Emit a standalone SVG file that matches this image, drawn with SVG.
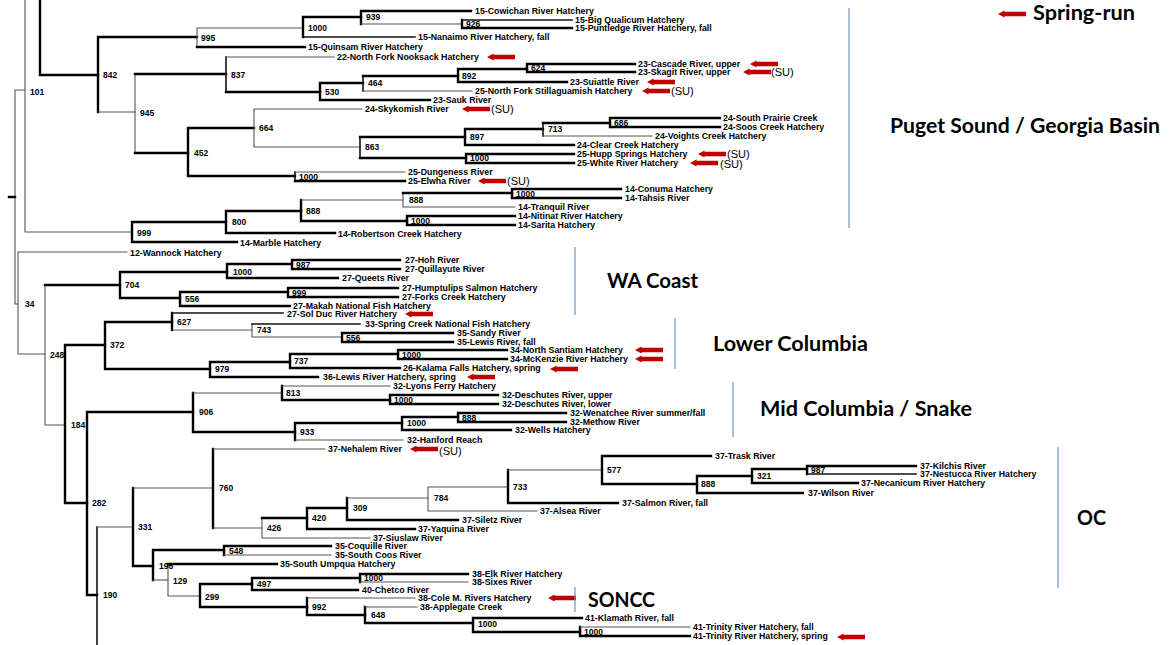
<svg xmlns="http://www.w3.org/2000/svg" xmlns:xlink="http://www.w3.org/1999/xlink" width="1173" height="645" viewBox="0 0 1173 645">
<style>
.k{stroke:#000;stroke-width:2.4;fill:none;stroke-linecap:square}
.m{stroke:#111;stroke-width:1.6;fill:none;stroke-linecap:square}
.g{stroke:#555;stroke-width:1.1;fill:none;stroke-linecap:square}
.lf{font-family:"Liberation Sans",Arial,sans-serif;font-weight:bold;font-size:8.8px;fill:#000}
.bs{font-family:"Liberation Sans",Arial,sans-serif;font-weight:bold;font-size:8.5px;fill:#000}
.su{font-family:"Liberation Sans",Arial,sans-serif;font-size:11px;fill:#000}
.rg{font-family:Lato,"Open Sans",sans-serif;font-size:20.5px;font-weight:bold;fill:#000}
.bl{stroke:#7090c8;stroke-width:1.2}
.ar{fill:#c00000}
</style>
<defs>
<path id="ar" class="ar" d="M0,0 L6.5,-3.6 V-2.3 H28 V2.3 H6.5 V3.6 Z"/>
</defs>
<rect width="1173" height="645" fill="#fff"/>

<g id="connectors">
<path class="k" d="M40,0V75M40,75H98"/>
<path class="g" d="M25,0V232M15,90H25M25,232H132M15,90V304M15,304H18"/>
<path class="k" d="M9,197H15"/>
<path class="k" d="M98,37V112M98,37H197"/><path class="g" d="M98,112H135"/>
<path class="g" d="M197,28V47M197,28H303"/><path class="k" d="M197,47H305"/>
<path class="k" d="M303,17V37M303,17H361"/><path class="m" d="M303,37H415"/>
<path class="k" d="M361,11V24M361,11H471"/><path class="g" d="M361,24H462"/>
<path class="k" d="M462,20V28M462,28H572"/><path class="m" d="M462,20H572"/>
<path class="g" d="M135,74V153"/><path class="k" d="M135,74H226M135,153H188"/>
<path class="m" d="M226,57V92"/><path class="g" d="M226,57H334"/><path class="k" d="M226,92H320"/>
<path class="k" d="M320,83V100M320,83H363M320,100H430"/>
<path class="m" d="M363,76V91"/><path class="k" d="M363,76H458"/><path class="g" d="M363,91H472"/>
<path class="k" d="M458,69V82M458,69H527M458,82H567"/>
<path class="k" d="M527,64V72M527,64H635M527,72H635"/>
<path class="k" d="M188,128V176M188,128H254M188,176H295"/>
<path class="g" d="M254,109V147M254,109H362M254,147H360"/>
<path class="m" d="M360,137V158"/><path class="k" d="M360,137H465M360,158H466"/>
<path class="k" d="M465,129V145M465,129H543M465,145H574"/>
<path class="m" d="M543,123V136"/><path class="k" d="M543,123H610"/><path class="g" d="M543,136H652"/>
<path class="k" d="M610,118V127M610,118H720M610,127H720"/>
<path class="k" d="M466,154V163M466,154H574M466,163H574"/>
<path class="m" d="M295,172V181"/><path class="g" d="M295,172H405"/><path class="k" d="M295,181H405"/>
<path class="k" d="M132,222V242M132,222H226M132,242H237"/>
<path class="k" d="M226,211V233M226,211H301M226,233H335"/>
<path class="k" d="M301,200V221M301,221H407"/><path class="g" d="M301,200H403"/>
<path class="g" d="M403,193V207M403,207H515"/><path class="k" d="M403,193H512"/>
<path class="k" d="M512,189V198M512,189H621M512,198H621"/>
<path class="k" d="M407,216V225M407,216H515M407,225H515"/>
<path class="g" d="M18,252V354M18,252H127M18,354H45"/>
<path class="g" d="M45,285V425M45,425H65"/><path class="k" d="M45,285H120"/>
<path class="k" d="M120,272V298M120,272H227M120,298H180"/>
<path class="k" d="M227,264V278M227,264H292M227,278H338"/>
<path class="k" d="M292,260V269M292,260H400M292,269H400"/>
<path class="k" d="M180,292V306M180,292H288M180,306H290"/>
<path class="k" d="M288,288V297M288,288H398M288,297H398"/>
<path class="k" d="M65,345V503M65,345H105M65,503H87"/>
<path class="k" d="M105,322V369M105,322H172M105,369H210"/>
<path class="k" d="M172,313V330"/><path class="m" d="M172,313H283"/><path class="g" d="M172,330H252"/>
<path class="g" d="M252,324V337M252,337H342"/><path class="m" d="M252,324H360"/>
<path class="k" d="M342,333V342M342,333H453M342,342H453"/>
<path class="k" d="M210,362V377M210,362H290M210,377H318"/>
<path class="k" d="M290,354V368M290,354H398M290,368H400"/>
<path class="k" d="M398,350V359M398,350H507M398,359H507"/>
<path class="k" d="M87,412V595M87,412H193M87,595H97"/>
<path class="k" d="M193,393V432M193,432H295"/><path class="g" d="M193,393H282"/>
<path class="k" d="M282,386V400M282,400H390"/><path class="g" d="M282,386H390"/>
<path class="k" d="M390,395V404M390,395H498M390,404H498"/>
<path class="k" d="M295,423V440M295,423H402"/><path class="g" d="M295,440H403"/>
<path class="k" d="M402,417V430M402,417H458M402,430H511"/>
<path class="k" d="M458,413V422M458,413H566M458,422H566"/>
<path class="m" d="M97,527V645"/><path class="g" d="M97,527H133"/>
<path class="k" d="M133,488V566M133,566H153"/><path class="g" d="M133,488H213"/>
<path class="k" d="M213,449V528"/><path class="g" d="M213,449H325M213,528H262"/>
<path class="g" d="M262,518V538M262,538H370"/><path class="k" d="M262,518H307"/>
<path class="k" d="M307,508V529M307,508H347M307,529H415"/>
<path class="k" d="M347,498V520M347,520H458"/><path class="g" d="M347,498H428"/>
<path class="g" d="M428,487V511M428,487H508M428,511H537"/>
<path class="k" d="M508,470V503M508,503H618"/><path class="g" d="M508,470H602"/>
<path class="k" d="M602,456V484M602,456H711M602,484H697"/>
<path class="k" d="M697,476V493M697,476H752M697,493H803"/>
<path class="k" d="M752,469V483M752,469H807M752,483H858"/>
<path class="k" d="M807,466V474M807,466H916"/><path class="m" d="M807,474H916"/>
<path class="k" d="M153,550V580M153,550H224"/><path class="g" d="M153,580H168"/>
<path class="k" d="M224,546V555M224,546H331"/><path class="g" d="M224,555H331"/>
<path class="g" d="M168,564V596M168,596H200"/><path class="k" d="M168,564H277"/>
<path class="k" d="M200,584V607M200,584H252M200,607H307"/>
<path class="k" d="M252,578V590M252,578H360M252,590H358"/>
<path class="k" d="M360,574V582M360,574H468"/><path class="g" d="M360,582H468"/>
<path class="k" d="M307,598V615M307,615H365"/><path class="g" d="M307,598H415"/>
<path class="k" d="M365,607V623M365,623H473"/><path class="g" d="M365,607H417"/>
<path class="k" d="M473,618V632M473,618H582M473,632H580"/>
<path class="k" d="M580,627V636M580,636H690"/><path class="g" d="M580,627H690"/>
</g>

<g id="bootstrap">
<g id="n101"><text class="bs" x="30" y="95">101</text></g>
<g id="n842"><text class="bs" x="103" y="78">842</text></g>
<g id="n995"><text class="bs" x="201" y="41">995</text></g>
<g id="n1000a"><text class="bs" x="308" y="31">1000</text></g>
<g id="n939"><text class="bs" x="366" y="20">939</text></g>
<g id="n926"><text class="bs" x="466" y="27">926</text></g>
<g id="n837"><text class="bs" x="231" y="78">837</text></g>
<g id="n530"><text class="bs" x="325" y="95">530</text></g>
<g id="n464"><text class="bs" x="368" y="86">464</text></g>
<g id="n892"><text class="bs" x="462" y="79">892</text></g>
<g id="n624"><text class="bs" x="531" y="71">624</text></g>
<g id="n945"><text class="bs" x="140" y="116">945</text></g>
<g id="n452"><text class="bs" x="194" y="156">452</text></g>
<g id="n664"><text class="bs" x="259" y="131">664</text></g>
<g id="n863"><text class="bs" x="365" y="150">863</text></g>
<g id="n897"><text class="bs" x="470" y="140">897</text></g>
<g id="n713"><text class="bs" x="548" y="132">713</text></g>
<g id="n686"><text class="bs" x="614" y="126">686</text></g>
<g id="n1000b"><text class="bs" x="470" y="161">1000</text></g>
<g id="n1000c"><text class="bs" x="299" y="180">1000</text></g>
<g id="n999"><text class="bs" x="137" y="236">999</text></g>
<g id="n800"><text class="bs" x="232" y="225">800</text></g>
<g id="n888a"><text class="bs" x="306" y="214">888</text></g>
<g id="n888b"><text class="bs" x="409" y="203">888</text></g>
<g id="n1000e"><text class="bs" x="516" y="197">1000</text></g>
<g id="n1000d"><text class="bs" x="411" y="224">1000</text></g>
<g id="n34"><text class="bs" x="25" y="307">34</text></g>
<g id="n248"><text class="bs" x="50" y="358">248</text></g>
<g id="n704"><text class="bs" x="125" y="288">704</text></g>
<g id="n1000f"><text class="bs" x="233" y="275">1000</text></g>
<g id="n987"><text class="bs" x="296" y="268">987</text></g>
<g id="n556"><text class="bs" x="185" y="302">556</text></g>
<g id="n999b"><text class="bs" x="292" y="296">999</text></g>
<g id="n184"><text class="bs" x="71" y="428">184</text></g>
<g id="n372"><text class="bs" x="110" y="348">372</text></g>
<g id="n627"><text class="bs" x="177" y="325">627</text></g>
<g id="n743"><text class="bs" x="257" y="333">743</text></g>
<g id="n556b"><text class="bs" x="346" y="341">556</text></g>
<g id="n979"><text class="bs" x="215" y="372">979</text></g>
<g id="n737"><text class="bs" x="294" y="364">737</text></g>
<g id="n1000g"><text class="bs" x="402" y="358">1000</text></g>
<g id="n282"><text class="bs" x="92" y="506">282</text></g>
<g id="n906"><text class="bs" x="199" y="415">906</text></g>
<g id="n813"><text class="bs" x="286" y="396">813</text></g>
<g id="n1000h"><text class="bs" x="394" y="403">1000</text></g>
<g id="n933"><text class="bs" x="300" y="435">933</text></g>
<g id="n1000i"><text class="bs" x="407" y="426">1000</text></g>
<g id="n888c"><text class="bs" x="462" y="421">888</text></g>
<g id="n190"><text class="bs" x="103" y="598">190</text></g>
<g id="n331"><text class="bs" x="138" y="530">331</text></g>
<g id="n760"><text class="bs" x="219" y="491">760</text></g>
<g id="n426"><text class="bs" x="267" y="531">426</text></g>
<g id="n420"><text class="bs" x="312" y="521">420</text></g>
<g id="n309"><text class="bs" x="353" y="511">309</text></g>
<g id="n784"><text class="bs" x="434" y="501">784</text></g>
<g id="n733"><text class="bs" x="513" y="490">733</text></g>
<g id="n577"><text class="bs" x="607" y="473">577</text></g>
<g id="n888d"><text class="bs" x="701" y="487">888</text></g>
<g id="n321"><text class="bs" x="757" y="479">321</text></g>
<g id="n987b"><text class="bs" x="811" y="473">987</text></g>
<g id="n196"><text class="bs" x="159" y="569">196</text></g>
<g id="n548"><text class="bs" x="229" y="554">548</text></g>
<g id="n129"><text class="bs" x="173" y="584">129</text></g>
<g id="n299"><text class="bs" x="205" y="600">299</text></g>
<g id="n497"><text class="bs" x="257" y="587">497</text></g>
<g id="n1000j"><text class="bs" x="364" y="581">1000</text></g>
<g id="n992"><text class="bs" x="312" y="610">992</text></g>
<g id="n648"><text class="bs" x="371" y="618">648</text></g>
<g id="n1000k"><text class="bs" x="478" y="627">1000</text></g>
<g id="n1000l"><text class="bs" x="584" y="635">1000</text></g>
</g>

<g id="leaves">
<g id="l1"><text class="lf" x="475" y="14">15-Cowichan River Hatchery</text></g>
<g id="l2"><text class="lf" x="575" y="23">15-Big Qualicum Hatchery</text></g>
<g id="l3"><text class="lf" x="575" y="31">15-Puntledge River Hatchery, fall</text></g>
<g id="l4"><text class="lf" x="418" y="40">15-Nanaimo River Hatchery, fall</text></g>
<g id="l5"><text class="lf" x="308" y="50">15-Quinsam River Hatchery</text></g>
<g id="l6"><text class="lf" x="337" y="60">22-North Fork Nooksack Hatchery</text><use href="#ar" x="487" y="57"/></g>
<g id="l7"><text class="lf" x="638" y="67">23-Cascade River, upper</text><use href="#ar" x="750" y="64"/></g>
<g id="l8"><text class="lf" x="638" y="75">23-Skagit River, upper</text><use href="#ar" x="743" y="72"/><text class="su" x="771" y="76">(SU)</text></g>
<g id="l9"><text class="lf" x="570" y="85">23-Suiattle River</text><use href="#ar" x="647" y="82"/></g>
<g id="l10"><text class="lf" x="475" y="94">25-North Fork Stillaguamish Hatchery</text><use href="#ar" x="642" y="91"/><text class="su" x="671" y="95">(SU)</text></g>
<g id="l11"><text class="lf" x="433" y="103">23-Sauk River</text></g>
<g id="l12"><text class="lf" x="365" y="112">24-Skykomish River</text><use href="#ar" x="462" y="109"/><text class="su" x="491" y="113">(SU)</text></g>
<g id="l13"><text class="lf" x="723" y="121">24-South Prairie Creek</text></g>
<g id="l14"><text class="lf" x="723" y="130">24-Soos Creek Hatchery</text></g>
<g id="l15"><text class="lf" x="655" y="139">24-Voights Creek Hatchery</text></g>
<g id="l16"><text class="lf" x="577" y="148">24-Clear Creek Hatchery</text></g>
<g id="l17"><text class="lf" x="577" y="157">25-Hupp Springs Hatchery</text><use href="#ar" x="698" y="154"/><text class="su" x="727" y="157.5">(SU)</text></g>
<g id="l18"><text class="lf" x="577" y="166">25-White River Hatchery</text><use href="#ar" x="690" y="163"/><text class="su" x="720" y="168">(SU)</text></g>
<g id="l19"><text class="lf" x="408" y="175">25-Dungeness River</text></g>
<g id="l20"><text class="lf" x="408" y="184">25-Elwha River</text><use href="#ar" x="478" y="181"/><text class="su" x="507" y="185">(SU)</text></g>
<g id="l21"><text class="lf" x="625" y="192">14-Conuma Hatchery</text></g>
<g id="l22"><text class="lf" x="625" y="201">14-Tahsis River</text></g>
<g id="l23"><text class="lf" x="518" y="210">14-Tranquil River</text></g>
<g id="l24"><text class="lf" x="518" y="219">14-Nitinat River Hatchery</text></g>
<g id="l25"><text class="lf" x="518" y="228">14-Sarita Hatchery</text></g>
<g id="l26"><text class="lf" x="338" y="237">14-Robertson Creek Hatchery</text></g>
<g id="l27"><text class="lf" x="240" y="246">14-Marble Hatchery</text></g>
<g id="l28"><text class="lf" x="130" y="256">12-Wannock Hatchery</text></g>
<g id="l29"><text class="lf" x="405" y="263">27-Hoh River</text></g>
<g id="l30"><text class="lf" x="405" y="272">27-Quillayute River</text></g>
<g id="l31"><text class="lf" x="342" y="281">27-Queets River</text></g>
<g id="l32"><text class="lf" x="402" y="291">27-Humptulips Salmon Hatchery</text></g>
<g id="l33"><text class="lf" x="402" y="300">27-Forks Creek Hatchery</text></g>
<g id="l34"><text class="lf" x="293" y="309">27-Makah National Fish Hatchery</text></g>
<g id="l35"><text class="lf" x="287" y="317">27-Sol Duc River Hatchery</text><use href="#ar" x="405" y="314"/></g>
<g id="l36"><text class="lf" x="365" y="327">33-Spring Creek National Fish Hatchery</text></g>
<g id="l37"><text class="lf" x="457" y="336">35-Sandy River</text></g>
<g id="l38"><text class="lf" x="457" y="345">35-Lewis River, fall</text></g>
<g id="l39"><text class="lf" x="510" y="353">34-North Santiam Hatchery</text><use href="#ar" x="635" y="350"/></g>
<g id="l40"><text class="lf" x="510" y="362">34-McKenzie River Hatchery</text><use href="#ar" x="635" y="359"/></g>
<g id="l41"><text class="lf" x="403" y="371">26-Kalama Falls Hatchery, spring</text><use href="#ar" x="550" y="369"/></g>
<g id="l42"><text class="lf" x="323" y="380">36-Lewis River Hatchery, spring</text><use href="#ar" x="467" y="377"/></g>
<g id="l43"><text class="lf" x="393" y="389">32-Lyons Ferry Hatchery</text></g>
<g id="l44"><text class="lf" x="502" y="398">32-Deschutes River, upper</text></g>
<g id="l45"><text class="lf" x="502" y="407">32-Deschutes River, lower</text></g>
<g id="l46"><text class="lf" x="570" y="416">32-Wenatchee River summer/fall</text></g>
<g id="l47"><text class="lf" x="570" y="425">32-Methow River</text></g>
<g id="l48"><text class="lf" x="515" y="433">32-Wells Hatchery</text></g>
<g id="l49"><text class="lf" x="407" y="442.5">32-Hanford Reach</text></g>
<g id="l50"><text class="lf" x="328" y="452">37-Nehalem River</text><use href="#ar" x="410" y="449"/><text class="su" x="439" y="454.5">(SU)</text></g>
<g id="l51"><text class="lf" x="715" y="459">37-Trask River</text></g>
<g id="l52"><text class="lf" x="920" y="469">37-Kilchis River</text></g>
<g id="l53"><text class="lf" x="920" y="477">37-Nestucca River Hatchery</text></g>
<g id="l54"><text class="lf" x="861" y="486">37-Necanicum River Hatchery</text></g>
<g id="l55"><text class="lf" x="808" y="496">37-Wilson River</text></g>
<g id="l56"><text class="lf" x="622" y="506">37-Salmon River, fall</text></g>
<g id="l57"><text class="lf" x="540" y="514">37-Alsea River</text></g>
<g id="l58"><text class="lf" x="462" y="523">37-Siletz River</text></g>
<g id="l59"><text class="lf" x="418" y="532">37-Yaquina River</text></g>
<g id="l60"><text class="lf" x="373" y="541">37-Siuslaw River</text></g>
<g id="l61"><text class="lf" x="335" y="549">35-Coquille River</text></g>
<g id="l62"><text class="lf" x="335" y="558">35-South Coos River</text></g>
<g id="l63"><text class="lf" x="280" y="567">35-South Umpqua Hatchery</text></g>
<g id="l64"><text class="lf" x="472" y="577">38-Elk River Hatchery</text></g>
<g id="l65"><text class="lf" x="472" y="585">38-Sixes River</text></g>
<g id="l66"><text class="lf" x="362" y="593">40-Chetco River</text></g>
<g id="l67"><text class="lf" x="418" y="601">38-Cole M. Rivers Hatchery</text><use href="#ar" x="548" y="598"/></g>
<g id="l68"><text class="lf" x="420" y="610">38-Applegate Creek</text></g>
<g id="l69"><text class="lf" x="585" y="621">41-Klamath River, fall</text></g>
<g id="l70"><text class="lf" x="693" y="630">41-Trinity River Hatchery, fall</text></g>
<g id="l71"><text class="lf" x="693" y="639">41-Trinity River Hatchery, spring</text><use href="#ar" x="837" y="637"/></g>
</g>

<g id="groups">
<line class="bl" x1="849" y1="8" x2="849" y2="228"/>
<text class="rg" x="890" y="133" textLength="270" lengthAdjust="spacingAndGlyphs">Puget Sound / Georgia Basin</text>
<line class="bl" x1="575" y1="247" x2="575" y2="315"/>
<text class="rg" x="607" y="288" textLength="91" lengthAdjust="spacingAndGlyphs">WA Coast</text>
<line class="bl" x1="675" y1="318" x2="675" y2="369"/>
<text class="rg" x="713" y="351" textLength="155" lengthAdjust="spacingAndGlyphs">Lower Columbia</text>
<line class="bl" x1="733" y1="382" x2="733" y2="437"/>
<text class="rg" x="760" y="416" textLength="212" lengthAdjust="spacingAndGlyphs">Mid Columbia / Snake</text>
<line class="bl" x1="1058" y1="447" x2="1058" y2="588"/>
<text class="rg" x="1077" y="525" textLength="29" lengthAdjust="spacingAndGlyphs">OC</text>
<line class="bl" x1="575" y1="587" x2="575" y2="612"/>
<text class="rg" x="588" y="607" textLength="67" lengthAdjust="spacingAndGlyphs">SONCC</text>
</g>

<g id="legend">
<use href="#ar" x="998" y="14"/>
<text class="rg" x="1033" y="20" textLength="102" lengthAdjust="spacingAndGlyphs">Spring-run</text>
</g>
</svg>
